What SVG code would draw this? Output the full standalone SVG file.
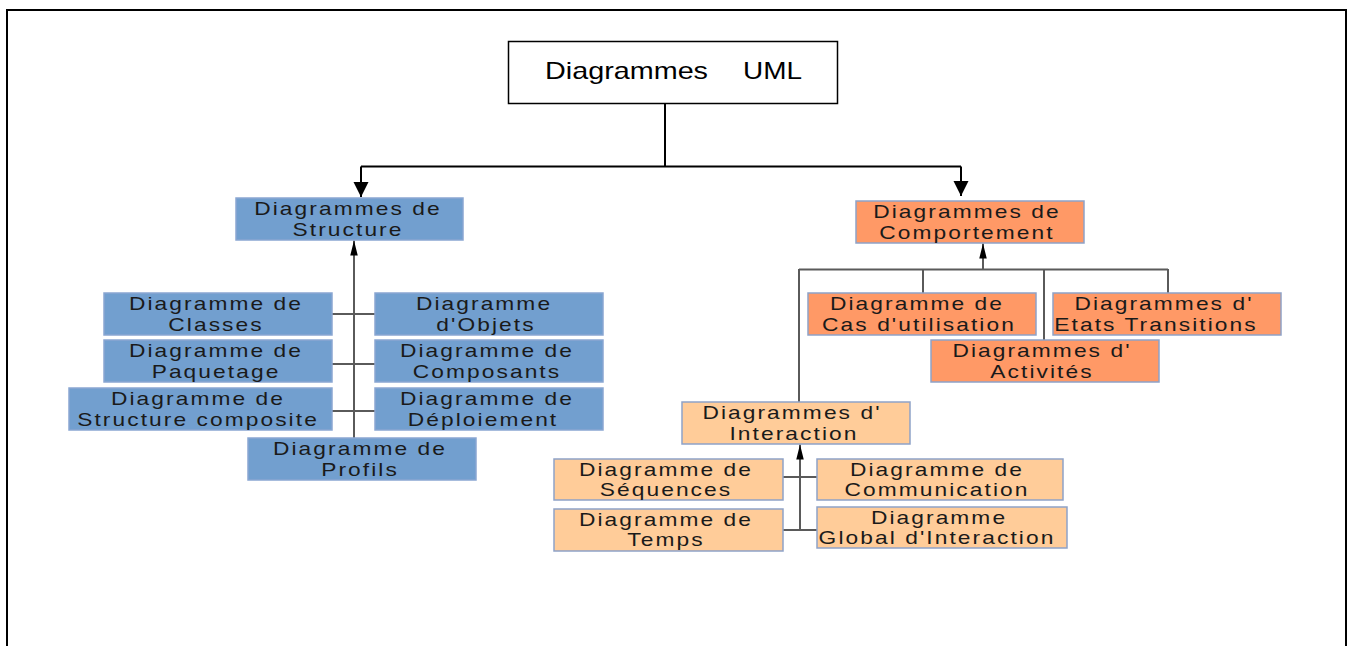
<svg xmlns="http://www.w3.org/2000/svg" width="1354" height="646" viewBox="0 0 1354 646">
  <style>
    .frame { fill: none; stroke: #000; stroke-width: 2; }
    .root { fill: #fff; stroke: #000; stroke-width: 1.5; }
    .root-label { font-family: "Liberation Sans", Arial, sans-serif; font-size: 24px; fill: #000; }
    .blue { fill: #729fcf; stroke: #8aa6d2; stroke-width: 1.5; }
    .orange { fill: #ff9966; stroke: #8ea2c8; stroke-width: 1.5; }
    .light { fill: #ffcc99; stroke: #8ea2c8; stroke-width: 1.5; }
    .label { font-family: "Liberation Sans", Arial, sans-serif; font-size: 17.5px; letter-spacing: 1.6px; fill: #1a1a1a; text-anchor: middle; }
    .main-link { fill: none; stroke: #000; stroke-width: 2; }
    .sub-link { fill: none; stroke: #5a5a5a; stroke-width: 2; }
  </style>
  <defs>
    <marker id="bigHead" markerUnits="userSpaceOnUse" markerWidth="16" markerHeight="16" viewBox="0 0 16 16" refX="15" refY="7.5" orient="auto">
      <path d="M0,0 L15,7.5 L0,15 z" fill="#000"/>
    </marker>
    <marker id="smallHead" markerUnits="userSpaceOnUse" markerWidth="16" markerHeight="8" viewBox="0 0 16 8" refX="15" refY="3.75" orient="auto">
      <path d="M0,0 L15,3.75 L0,7.5 z" fill="#000"/>
    </marker>
  </defs>

  <rect width="1354" height="646" fill="#fff"/>
  <path class="frame" d="M7,650 V10 H1346 V650"/>

  <!-- connectors -->
  <g id="connectors">
    <path class="main-link" d="M665,103 V166.5"/>
    <path class="main-link" d="M361,166.5 H961"/>
    <path class="main-link" d="M361,166.5 V197" marker-end="url(#bigHead)"/>
    <path class="main-link" d="M961,166.5 V196" marker-end="url(#bigHead)"/>

    <!-- structure tree -->
    <path class="sub-link" d="M354,438 V240.5" marker-end="url(#smallHead)"/>
    <path class="sub-link" d="M332,314 H375 M332,364 H375 M332,411 H375"/>

    <!-- behaviour tree -->
    <path class="sub-link" d="M983,269.5 V243.5" marker-end="url(#smallHead)"/>
    <path class="sub-link" d="M799,269.5 H1168 M799,269 V402 M923,269 V293 M1044,269 V340 M1168,269 V293"/>

    <!-- interaction tree -->
    <path class="sub-link" d="M800,530 V444.5" marker-end="url(#smallHead)"/>
    <path class="sub-link" d="M783,477 H817 M783,530 H817"/>
  </g>

  <!-- root -->
  <g id="uml">
    <rect class="root" x="508.5" y="41.5" width="329" height="62"/>
    <text class="root-label" y="79"><tspan x="545" textLength="163" lengthAdjust="spacingAndGlyphs">Diagrammes</tspan><tspan x="743" textLength="59" lengthAdjust="spacingAndGlyphs">UML</tspan></text>
  </g>

  <!-- structure diagrams (labels are widened horizontally) -->
  <g id="structure">
    <rect class="blue" x="236" y="198" width="227" height="42"/>
    <text class="label" transform="translate(348,214.5) scale(1.3,1)">Diagrammes de</text>
    <text class="label" transform="translate(348,235.5) scale(1.3,1)">Structure</text>
  </g>
  <g id="classes">
    <rect class="blue" x="104" y="293" width="228" height="42"/>
    <text class="label" transform="translate(216,309.5) scale(1.3,1)">Diagramme de</text>
    <text class="label" transform="translate(216,330.5) scale(1.3,1)">Classes</text>
  </g>
  <g id="objets">
    <rect class="blue" x="375" y="293" width="228" height="42"/>
    <text class="label" transform="translate(484,309.5) scale(1.3,1)">Diagramme</text>
    <text class="label" transform="translate(486,330.5) scale(1.3,1)">d'Objets</text>
  </g>
  <g id="paquetage">
    <rect class="blue" x="104" y="340" width="228" height="42"/>
    <text class="label" transform="translate(216,356.5) scale(1.3,1)">Diagramme de</text>
    <text class="label" transform="translate(216,377.5) scale(1.3,1)">Paquetage</text>
  </g>
  <g id="composants">
    <rect class="blue" x="375" y="340" width="228" height="42"/>
    <text class="label" transform="translate(487,356.5) scale(1.3,1)">Diagramme de</text>
    <text class="label" transform="translate(487,377.5) scale(1.3,1)">Composants</text>
  </g>
  <g id="structure-composite">
    <rect class="blue" x="69" y="388" width="263" height="42"/>
    <text class="label" transform="translate(198,404.5) scale(1.3,1)">Diagramme de</text>
    <text class="label" transform="translate(198,425.5) scale(1.3,1)">Structure composite</text>
  </g>
  <g id="deploiement">
    <rect class="blue" x="375" y="388" width="228" height="42"/>
    <text class="label" transform="translate(487,404.5) scale(1.3,1)">Diagramme de</text>
    <text class="label" transform="translate(483,425.5) scale(1.3,1)">Déploiement</text>
  </g>
  <g id="profils">
    <rect class="blue" x="248" y="438" width="228" height="42"/>
    <text class="label" transform="translate(360,454.5) scale(1.3,1)">Diagramme de</text>
    <text class="label" transform="translate(360,475.5) scale(1.3,1)">Profils</text>
  </g>

  <!-- behaviour diagrams -->
  <g id="comportement">
    <rect class="orange" x="856" y="201" width="228" height="42"/>
    <text class="label" transform="translate(967,217.5) scale(1.3,1)">Diagrammes de</text>
    <text class="label" transform="translate(967,238.5) scale(1.3,1)">Comportement</text>
  </g>
  <g id="cas-utilisation">
    <rect class="orange" x="808" y="293" width="228" height="42"/>
    <text class="label" transform="translate(917,309.5) scale(1.3,1)">Diagramme de</text>
    <text class="label" transform="translate(919,330.5) scale(1.3,1)">Cas d'utilisation</text>
  </g>
  <g id="etats-transitions">
    <rect class="orange" x="1053" y="293" width="228" height="42"/>
    <text class="label" transform="translate(1164,309.5) scale(1.3,1)">Diagrammes d'</text>
    <text class="label" transform="translate(1156,330.5) scale(1.3,1)">Etats Transitions</text>
  </g>
  <g id="activites">
    <rect class="orange" x="931" y="340" width="228" height="42"/>
    <text class="label" transform="translate(1042,356.5) scale(1.3,1)">Diagrammes d'</text>
    <text class="label" transform="translate(1042,377.5) scale(1.3,1)">Activités</text>
  </g>
  <g id="interaction">
    <rect class="light" x="682" y="402" width="228" height="42"/>
    <text class="label" transform="translate(792,418.5) scale(1.3,1)">Diagrammes d'</text>
    <text class="label" transform="translate(794,439.5) scale(1.3,1)">Interaction</text>
  </g>
  <g id="sequences">
    <rect class="light" x="554" y="459" width="229" height="41"/>
    <text class="label" transform="translate(666,475.5) scale(1.3,1)">Diagramme de</text>
    <text class="label" transform="translate(666,495.5) scale(1.3,1)">Séquences</text>
  </g>
  <g id="communication">
    <rect class="light" x="817" y="459" width="246" height="41"/>
    <text class="label" transform="translate(937,475.5) scale(1.3,1)">Diagramme de</text>
    <text class="label" transform="translate(937,495.5) scale(1.3,1)">Communication</text>
  </g>
  <g id="temps">
    <rect class="light" x="554" y="509" width="229" height="42"/>
    <text class="label" transform="translate(666,525.5) scale(1.3,1)">Diagramme de</text>
    <text class="label" transform="translate(666,546) scale(1.3,1)">Temps</text>
  </g>
  <g id="global-interaction">
    <rect class="light" x="817" y="507" width="250" height="41"/>
    <text class="label" transform="translate(939,523.5) scale(1.3,1)">Diagramme</text>
    <text class="label" transform="translate(937,543.5) scale(1.3,1)">Global d'Interaction</text>
  </g>
</svg>
